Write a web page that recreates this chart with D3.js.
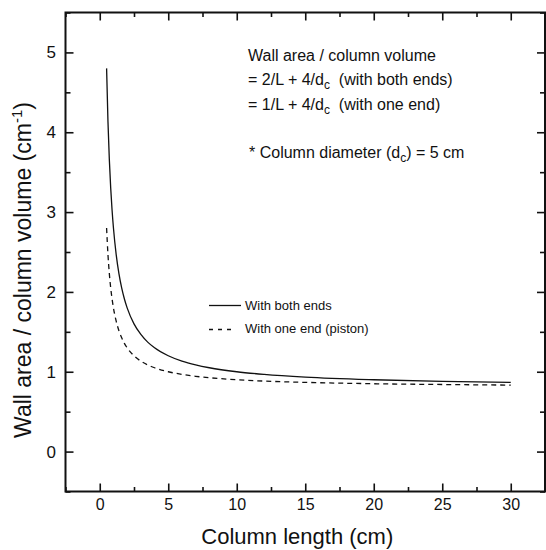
<!DOCTYPE html>
<html>
<head>
<meta charset="utf-8">
<script src="https://cdn.jsdelivr.net/npm/d3@7"></script>
<style>
  html, body { margin: 0; padding: 0; background: #fff; }
  svg { display: block; font-family: "Liberation Sans", Arial, sans-serif; }
  .note text { white-space: pre; }
</style>
</head>
<body>
<svg id="chart" width="546" height="550"></svg>
<script>
// Column length L (cm)
const lengths = [0.5, 0.6, 0.7, 0.8, 0.9, 1, 1.2, 1.4, 1.6, 1.8, 2, 2.5, 3, 3.5, 4, 5, 6, 7, 8, 10, 12, 15, 20, 25, 30];
// Wall area / column volume with both ends closed (cm^-1)
const bothEnds = [4.8, 4.133, 3.657, 3.3, 3.022, 2.8, 2.467, 2.229, 2.05, 1.911, 1.8, 1.6, 1.467, 1.371, 1.3, 1.2, 1.133, 1.086, 1.05, 1.0, 0.967, 0.933, 0.9, 0.88, 0.867];
// Wall area / column volume with one end (piston) (cm^-1)
const oneEnd = [2.8, 2.467, 2.229, 2.05, 1.911, 1.8, 1.633, 1.514, 1.425, 1.356, 1.3, 1.2, 1.133, 1.086, 1.05, 1.0, 0.967, 0.943, 0.925, 0.9, 0.883, 0.867, 0.85, 0.84, 0.833];

const xTicks = [0, 5, 10, 15, 20, 25, 30];
const xMinor = [-2.5, 2.5, 7.5, 12.5, 17.5, 22.5, 27.5, 32.5];
const yTicks = [0, 1, 2, 3, 4, 5];
const yMinor = [-0.5, 0.5, 1.5, 2.5, 3.5, 4.5, 5.5];

const seriesNames = ["With both ends", "With one end (piston)"];

const svg = d3.select("#chart");
const ink = "#111";

const plotL = 65.5, plotR = 545, plotT = 12.5, plotB = 491.5;
const x = d3.scaleLinear().domain([-2.5, 32.5]).range([plotL, plotR]);
const y = d3.scaleLinear().domain([-0.5, 5.5]).range([plotB, plotT]);
const fmt = d3.format("d");

// Axes with inward ticks on all four sides
function styleAxis(g) {
  g.selectAll("path").remove();
  g.selectAll("line").attr("stroke", ink).attr("stroke-width", 1.6);
  g.selectAll("text").attr("fill", ink).attr("font-size", 16);
}
svg.append("g").attr("transform", `translate(0,${plotB})`)
  .call(d3.axisBottom(x).tickValues(xTicks).tickFormat(fmt).tickSizeInner(-8).tickSizeOuter(0).tickPadding(7.5))
  .call(styleAxis);
svg.append("g").attr("transform", `translate(0,${plotB})`)
  .call(d3.axisBottom(x).tickValues(xMinor).tickSizeInner(-4.5).tickSizeOuter(0).tickFormat(""))
  .call(styleAxis);
svg.append("g").attr("transform", `translate(0,${plotT})`)
  .call(d3.axisTop(x).tickValues(xTicks).tickSizeInner(-8).tickSizeOuter(0).tickFormat(""))
  .call(styleAxis);
svg.append("g").attr("transform", `translate(0,${plotT})`)
  .call(d3.axisTop(x).tickValues(xMinor).tickSizeInner(-4.5).tickSizeOuter(0).tickFormat(""))
  .call(styleAxis);
svg.append("g").attr("transform", `translate(${plotL},0)`)
  .call(d3.axisLeft(y).tickValues(yTicks).tickFormat(fmt).tickSizeInner(-8).tickSizeOuter(0).tickPadding(9.5))
  .call(styleAxis)
  .call(g => g.selectAll("text").attr("font-size", 17));
svg.append("g").attr("transform", `translate(${plotL},0)`)
  .call(d3.axisLeft(y).tickValues(yMinor).tickSizeInner(-5).tickSizeOuter(0).tickFormat(""))
  .call(styleAxis);
svg.append("g").attr("transform", `translate(${plotR},0)`)
  .call(d3.axisRight(y).tickValues(yTicks).tickSizeInner(-8).tickSizeOuter(0).tickFormat(""))
  .call(styleAxis);
svg.append("g").attr("transform", `translate(${plotR},0)`)
  .call(d3.axisRight(y).tickValues(yMinor).tickSizeInner(-5).tickSizeOuter(0).tickFormat(""))
  .call(styleAxis);

// Frame
svg.append("rect")
  .attr("x", plotL).attr("y", plotT)
  .attr("width", plotR - plotL).attr("height", plotB - plotT)
  .attr("fill", "none").attr("stroke", ink).attr("stroke-width", 2);

// Curves
const line = d3.line().curve(d3.curveMonotoneX).x(d => x(d[0])).y(d => y(d[1]));
svg.append("path")
  .datum(lengths.map((l, i) => [l, bothEnds[i]]))
  .attr("d", line).attr("fill", "none").attr("stroke", ink).attr("stroke-width", 1.3);
svg.append("path")
  .datum(lengths.map((l, i) => [l, oneEnd[i]]))
  .attr("d", line).attr("fill", "none").attr("stroke", ink).attr("stroke-width", 1.3)
  .attr("stroke-dasharray", "5,4");

// Legend
const legend = svg.append("g").attr("font-size", 13).attr("fill", ink);
legend.append("line").attr("x1", 209).attr("x2", 241).attr("y1", 305.5).attr("y2", 305.5)
  .attr("stroke", ink).attr("stroke-width", 1.3);
legend.append("line").attr("x1", 209).attr("x2", 234).attr("y1", 329.5).attr("y2", 329.5)
  .attr("stroke", ink).attr("stroke-width", 1.3).attr("stroke-dasharray", "4,5");
legend.append("text").attr("x", 245).attr("y", 310).text(seriesNames[0]);
legend.append("text").attr("x", 245).attr("y", 333).text(seriesNames[1]);

// Formula annotation
const note = svg.append("g").attr("class", "note").attr("font-size", 16).attr("fill", ink);
note.append("text").attr("x", 248).attr("y", 61).text("Wall area / column volume");
function formulaLine(yPos, lead, tail) {
  const t = note.append("text").attr("x", 248).attr("y", yPos);
  t.append("tspan").text(lead);
  t.append("tspan").attr("font-size", 12).attr("dy", 4).text("c");
  t.append("tspan").attr("dy", -4).text(tail);
}
formulaLine(85, "= 2/L + 4/d", "  (with both ends)");
formulaLine(110, "= 1/L + 4/d", "  (with one end)");
const dia = note.append("text").attr("x", 249).attr("y", 158);
dia.append("tspan").text("* Column diameter (d");
dia.append("tspan").attr("font-size", 12).attr("dy", 4).text("c");
dia.append("tspan").attr("dy", -4).text(") = 5 cm");

// Axis titles
svg.append("text").attr("x", (plotL + plotR) / 2 - 8).attr("y", 544)
  .attr("text-anchor", "middle").attr("font-size", 22).attr("fill", ink)
  .text("Column length (cm)");
const yt = svg.append("text")
  .attr("transform", `translate(31,270) rotate(-90)`)
  .attr("text-anchor", "middle").attr("font-size", 23).attr("fill", ink);
yt.append("tspan").text("Wall area / column volume (cm");
yt.append("tspan").attr("font-size", 15).attr("dy", -9).text("-1");
yt.append("tspan").attr("dy", 9).text(")");
</script>
</body>
</html>
